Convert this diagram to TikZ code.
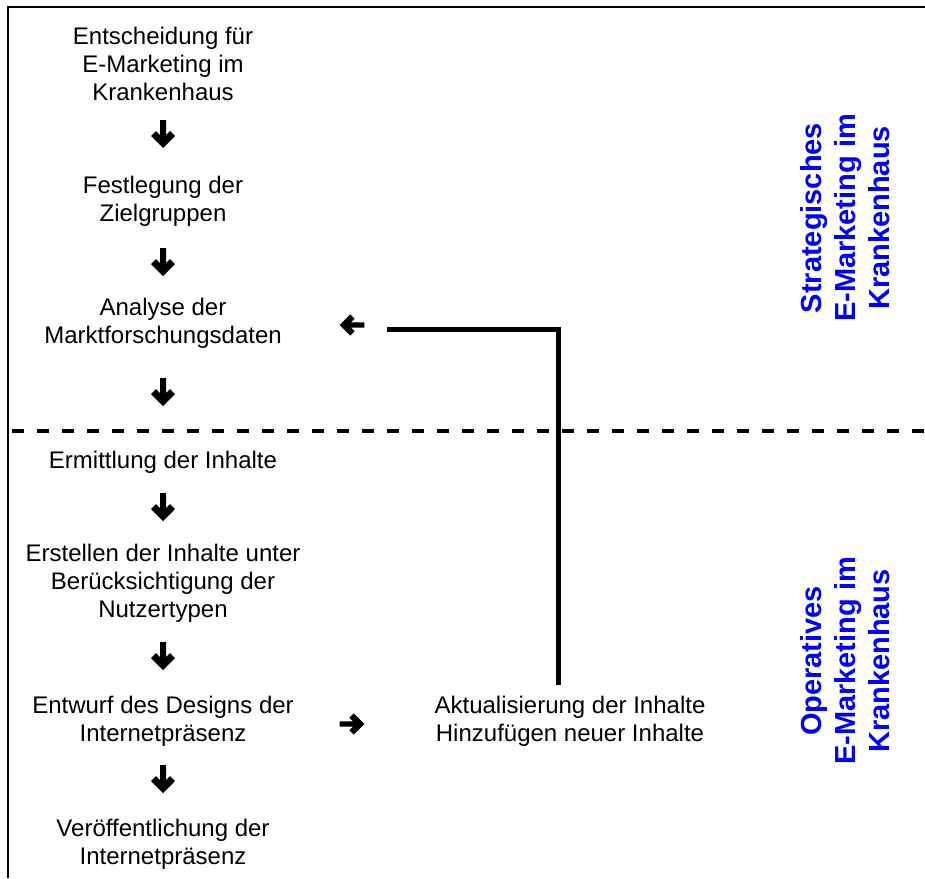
\documentclass[tikz,border=0pt]{standalone}
\usepackage{fontspec}
\setmainfont{Liberation Sans}
\usetikzlibrary{positioning}
\definecolor{phaseblue}{HTML}{0000FF}

\begin{document}
\begin{tikzpicture}[x=1pt, y=-1pt, on grid,
    schritt/.style={align=center, inner sep=0pt, font=\fontsize{24}{28}\selectfont},
    phase/.style={rotate=90, align=center, inner sep=0pt, text=phaseblue, font=\bfseries\fontsize{29}{34}\selectfont},
    pfeil/.pic={\fill (-14,-3) -- (1.1,-3) -- (-2.95,-7.05) -- (2,-12) -- (14,0)
      -- (2,12) -- (-2.95,7.05) -- (1.1,3) -- (-14,3) -- cycle;}]
      \useasboundingbox (0,0) rectangle (925,878);

      \node[schritt] at (163,64) (1) {Entscheidung für\\E-Marketing im\\Krankenhaus};
      \node[schritt, below=137pt of 1] (2) {Festlegung der\\Zielgruppen};
      \node[schritt, below=122pt of 2] (3) {Analyse der\\Marktforschungsdaten};
      \node[schritt, below=139pt of 3] (4) {Ermittlung der Inhalte};
      \node[schritt, below=121pt of 4] (5) {Erstellen der Inhalte unter\\Berücksichtigung der\\Nutzertypen};
      \node[schritt, below=138pt of 5] (6) {Entwurf des Designs der\\Internetpräsenz};
      \node[schritt, below=123pt of 6] (7) {Veröffentlichung der\\Internetpräsenz};
      \node[schritt, right=407pt of 6] (8) {Aktualisierung der Inhalte\\Hinzufügen neuer Inhalte};

      \node[phase] at (845,218) (s) {Strategisches\\E-Marketing im\\Krankenhaus};
      \node[phase] at (845,661) (o) {Operatives\\E-Marketing im\\Krankenhaus};

      % Rahmen und Trennlinie
      \draw[line width=1.3pt] (8,878) -- (8,7) -- (925,7);
      \draw[line width=4pt, dash pattern=on 12pt off 13pt] (12,431) -- (925,431);

      % Pfeile
      \foreach \y in {134,262,392,507,656,779}
        \pic[rotate=-90] at (163,\y) {pfeil};
      \pic[rotate=180, scale=0.88] at (352,325) {pfeil};
      \pic[scale=0.88] at (352,724) {pfeil};

      % Rueckkopplung
      \coordinate (r1) at (558,685);
      \coordinate (r2) at (387,329);
      \draw[line width=5pt] (r1) |- (r2);
    \end{tikzpicture}
\end{document}
